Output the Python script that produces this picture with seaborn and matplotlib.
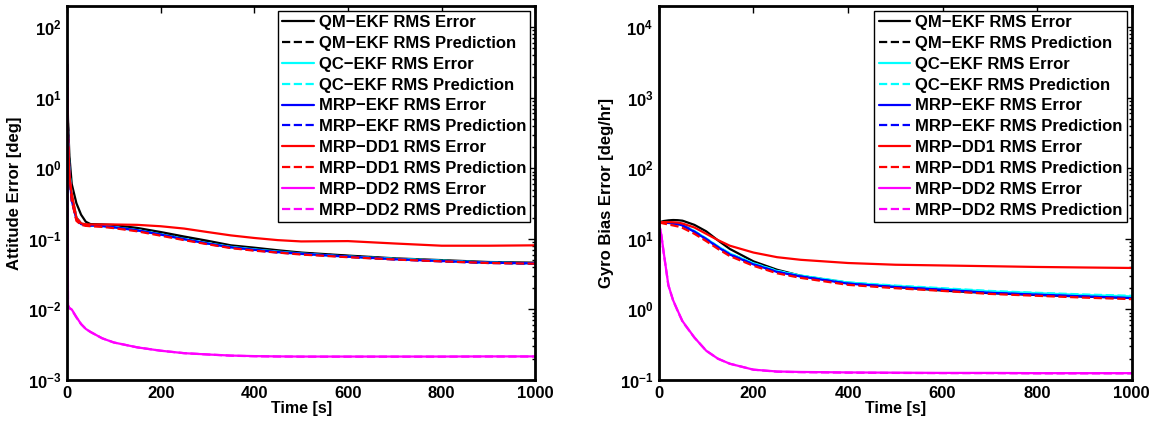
import matplotlib
matplotlib.use("Agg")
import numpy as np
import pandas as pd
import matplotlib.pyplot as plt
import seaborn as sns
from matplotlib.ticker import FixedLocator, LogLocator, FuncFormatter, NullFormatter

# ---------------- data ----------------
labels = ["QM\u2212EKF RMS Error", "QM\u2212EKF RMS Prediction",
          "QC\u2212EKF RMS Error", "QC\u2212EKF RMS Prediction",
          "MRP\u2212EKF RMS Error", "MRP\u2212EKF RMS Prediction",
          "MRP\u2212DD1 RMS Error", "MRP\u2212DD1 RMS Prediction",
          "MRP\u2212DD2 RMS Error", "MRP\u2212DD2 RMS Prediction"]
colors = ["#000000", "#000000", "#00FFFF", "#00FFFF", "#0000FF", "#0000FF",
          "#FF0000", "#FF0000", "#FF00FF", "#FF00FF"]
styles = ["-", "--", "-", "--", "-", "--", "-", "--", "-", "--"]

# Attitude error [deg]
t_att = [0, 2, 5, 10, 20, 30, 40, 50, 75, 100, 150, 200, 250, 300, 350, 400,
         450, 500, 600, 700, 800, 900, 1000]
att_qm_err = [30, 5.0, 1.5, 0.6, 0.32, 0.22, 0.175, 0.162, 0.16, 0.157, 0.143, 0.125, 0.108,
              0.094, 0.081, 0.075, 0.069, 0.064, 0.058, 0.053, 0.050, 0.047, 0.046]
att_qm_pred = [30, 4.0, 1.0, 0.4, 0.2, 0.165, 0.158, 0.156, 0.154, 0.149, 0.136, 0.118, 0.102,
               0.089, 0.078, 0.072, 0.067, 0.063, 0.057, 0.052, 0.049, 0.046, 0.045]
att_qc_err = [25, 3.0, 0.9, 0.4, 0.2, 0.165, 0.157, 0.155, 0.153, 0.147, 0.133, 0.116, 0.100,
              0.087, 0.077, 0.071, 0.066, 0.062, 0.056, 0.052, 0.049, 0.046, 0.045]
att_qc_pred = [34, 3.0, 0.9, 0.4, 0.2, 0.164, 0.156, 0.154, 0.152, 0.146, 0.132, 0.115, 0.099,
               0.086, 0.076, 0.070, 0.065, 0.061, 0.056, 0.052, 0.049, 0.046, 0.045]
att_mrp_err = [30, 3.0, 0.8, 0.35, 0.19, 0.162, 0.157, 0.155, 0.152, 0.146, 0.132, 0.115, 0.099,
               0.086, 0.076, 0.070, 0.065, 0.0615, 0.056, 0.0515, 0.0485, 0.046, 0.045]
att_mrp_pred = [30, 3.0, 0.8, 0.35, 0.19, 0.161, 0.156, 0.154, 0.151, 0.145, 0.131, 0.114, 0.098,
                0.085, 0.075, 0.069, 0.064, 0.061, 0.0555, 0.051, 0.048, 0.0455, 0.0445]
att_dd1_err = [30, 3.0, 0.8, 0.44, 0.2, 0.166, 0.161, 0.16, 0.16, 0.16, 0.158, 0.151, 0.140,
               0.125, 0.112, 0.103, 0.096, 0.092, 0.093, 0.086, 0.080, 0.080, 0.081]
att_dd1_pred = [30, 3.0, 0.8, 0.35, 0.18, 0.158, 0.153, 0.151, 0.148, 0.142, 0.128, 0.111, 0.096,
                0.084, 0.074, 0.068, 0.064, 0.060, 0.055, 0.051, 0.048, 0.0455, 0.0445]
att_dd2_err = [42, 0.0115, 0.0105, 0.0100, 0.0078, 0.0062, 0.0053, 0.0048, 0.0039, 0.0034,
               0.0029, 0.0026, 0.0024, 0.0023, 0.00222, 0.00218, 0.00216, 0.00215, 0.00215,
               0.00215, 0.00215, 0.00216, 0.00216]
att_dd2_pred = [40, 0.0114, 0.0104, 0.0099, 0.0077, 0.0062, 0.0053, 0.0048, 0.0039, 0.0034,
                0.0029, 0.0026, 0.0024, 0.0023, 0.00221, 0.00217, 0.00215, 0.00214, 0.00214,
                0.00214, 0.00214, 0.00215, 0.00215]

# Gyro bias error [deg/hr]
t_gyro = [0, 5, 10, 20, 30, 40, 50, 75, 100, 125, 150, 200, 250, 300, 400, 500, 600, 700,
          800, 900, 1000]
gyro_qm_err = [17, 17.5, 17.9, 18.3, 18.5, 18.4, 18.1, 15.8, 12.8, 9.5, 7.2, 4.8, 3.65, 3.0,
               2.38, 2.08, 1.85, 1.70, 1.60, 1.52, 1.46]
gyro_qm_pred = [17, 17, 16.9, 16.8, 16.6, 16.2, 15.5, 12.6, 9.9, 7.6, 6.0, 4.35, 3.4, 2.93,
                2.32, 2.08, 1.9, 1.72, 1.62, 1.53, 1.45]
gyro_qc_err = [17, 17, 17, 16.9, 16.7, 16.3, 15.7, 12.9, 10.1, 7.8, 6.2, 4.5, 3.5, 3.0, 2.4,
               2.15, 1.97, 1.8, 1.7, 1.6, 1.53]
gyro_qc_pred = [17, 17, 17, 16.9, 16.7, 16.3, 15.7, 12.9, 10.1, 7.8, 6.2, 4.5, 3.52, 3.02,
                2.42, 2.18, 2.0, 1.83, 1.72, 1.63, 1.56]
gyro_mrp_err = [17, 17, 16.9, 16.8, 16.6, 16.2, 15.5, 12.6, 9.9, 7.6, 6.0, 4.35, 3.4, 2.93,
                2.32, 2.08, 1.9, 1.72, 1.62, 1.53, 1.45]
gyro_mrp_pred = [17, 17, 16.9, 16.8, 16.6, 16.2, 15.5, 12.6, 9.9, 7.6, 6.0, 4.35, 3.4, 2.93,
                 2.32, 2.07, 1.89, 1.71, 1.61, 1.52, 1.44]
gyro_dd1_err = [17, 17.2, 17.3, 17.3, 17.2, 17.0, 16.5, 14.5, 11.8, 9.6, 8.0, 6.4, 5.5, 5.05,
                4.55, 4.3, 4.2, 4.1, 4.0, 3.93, 3.87]
gyro_dd1_pred = [17, 16.8, 16.5, 16.0, 15.5, 15.0, 14.3, 11.8, 9.3, 7.2, 5.7, 4.15, 3.25, 2.8,
                 2.23, 2.0, 1.83, 1.66, 1.56, 1.47, 1.40]
gyro_dd2_err = [17, 11.5, 6.5, 2.2, 1.35, 0.95, 0.68, 0.40, 0.26, 0.20, 0.17, 0.14, 0.132,
                0.130, 0.128, 0.127, 0.126, 0.126, 0.125, 0.125, 0.125]
gyro_dd2_pred = [17, 11.4, 6.4, 2.2, 1.34, 0.94, 0.67, 0.40, 0.26, 0.20, 0.17, 0.14, 0.131,
                 0.129, 0.127, 0.126, 0.125, 0.125, 0.124, 0.124, 0.124]

att_series = [att_qm_err, att_qm_pred, att_qc_err, att_qc_pred, att_mrp_err, att_mrp_pred,
              att_dd1_err, att_dd1_pred, att_dd2_err, att_dd2_pred]
gyro_series = [gyro_qm_err, gyro_qm_pred, gyro_qc_err, gyro_qc_pred, gyro_mrp_err,
               gyro_mrp_pred, gyro_dd1_err, gyro_dd1_pred, gyro_dd2_err, gyro_dd2_pred]

x_ticks = [0, 200, 400, 600, 800, 1000]

# ---------------- style ----------------
sns.set_style("white")
plt.rcParams["font.family"] = ["Liberation Sans", "DejaVu Sans"]
plt.rcParams["font.weight"] = "bold"
plt.rcParams["text.color"] = "black"
plt.rcParams["axes.labelcolor"] = "black"
plt.rcParams["xtick.color"] = "black"
plt.rcParams["ytick.color"] = "black"
plt.rcParams["mathtext.fontset"] = "custom"
plt.rcParams["mathtext.rm"] = "Liberation Sans:bold"
plt.rcParams["mathtext.bf"] = "Liberation Sans:bold"
plt.rcParams["mathtext.it"] = "Liberation Sans:bold"

fig = plt.figure(figsize=(11.56, 4.26), dpi=100)
ax1 = fig.add_axes([0.058, 0.108, 0.405, 0.878])
ax2 = fig.add_axes([0.570, 0.108, 0.409, 0.878])


def sup_fmt(v, pos):
    e = int(round(np.log10(v)))
    return r"$\mathbf{10^{%d}}$" % e


def draw(ax, t, series, ylim, ylabel):
    for vals, lab, c, ls in zip(series, labels, colors, styles):
        df = pd.DataFrame({"t": t, "v": vals})
        sns.lineplot(data=df, x="t", y="v", ax=ax, color=c, linestyle=ls,
                     linewidth=1.6, label=lab, errorbar=None)
    ax.set_yscale("log")
    ax.set_xlim(0, 1000)
    ax.set_ylim(*ylim)
    ax.xaxis.set_major_locator(FixedLocator(x_ticks))
    ax.yaxis.set_major_locator(LogLocator(base=10, numticks=20))
    ax.yaxis.set_minor_locator(LogLocator(base=10, subs=np.arange(2, 10), numticks=20))
    ax.yaxis.set_major_formatter(FuncFormatter(sup_fmt))
    ax.yaxis.set_minor_formatter(NullFormatter())
    ax.tick_params(axis="both", which="both", direction="in", top=True, right=True,
                   labelsize=12, width=1.0, colors="black")
    ax.tick_params(axis="both", which="major", length=5, pad=4)
    ax.tick_params(axis="y", which="minor", length=2.5)
    for lbl in ax.get_xticklabels():
        lbl.set_fontweight("bold")
    for s in ax.spines.values():
        s.set_linewidth(2.0)
        s.set_color("black")
    ax.set_xlabel("Time [s]", fontsize=11.5, fontweight="bold", labelpad=0, color="black")
    ax.set_ylabel(ylabel, fontsize=12, fontweight="bold", labelpad=4, color="black")
    leg = ax.legend(loc="upper right", fontsize=12, frameon=True, fancybox=False,
                    edgecolor="black", framealpha=1, handlelength=1.9, handletextpad=0.3,
                    labelspacing=0.35, borderpad=0.25, borderaxespad=0.3)
    leg.get_frame().set_linewidth(1.0)
    for txt in leg.get_texts():
        txt.set_fontweight("bold")
        txt.set_color("black")


draw(ax1, t_att, att_series, (1e-3, 2e2), "Attitude Error [deg]")
draw(ax2, t_gyro, gyro_series, (1e-1, 2e4), "Gyro Bias Error [deg/hr]")

fig.savefig("out.png", dpi=100)
